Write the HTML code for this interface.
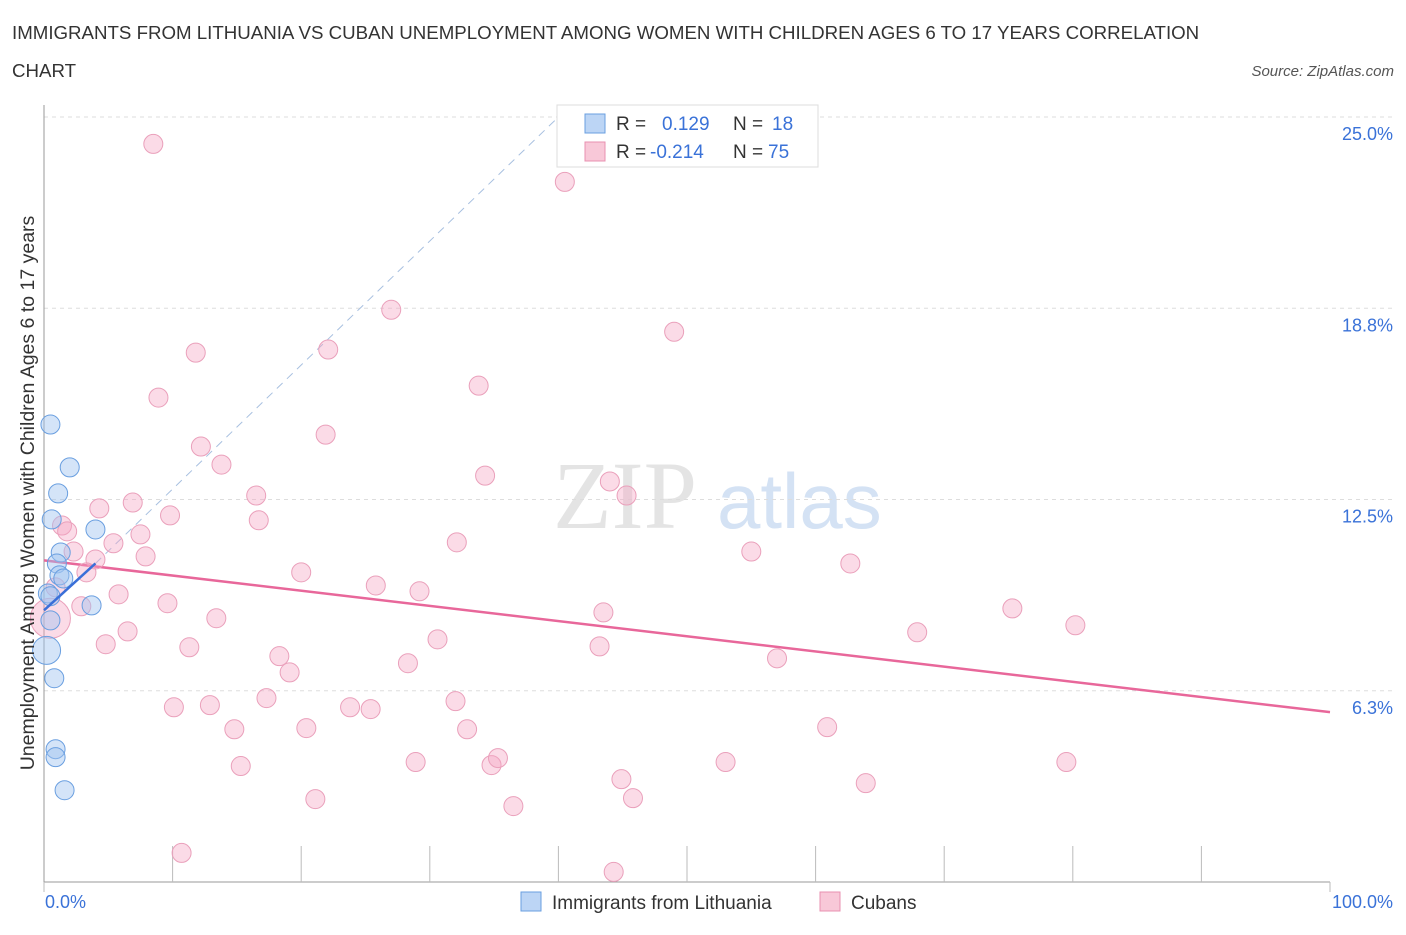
<!DOCTYPE html>
<html><head><meta charset="utf-8"><style>
body{margin:0;background:#fff;font-family:"Liberation Sans",sans-serif;}
svg text{font-family:"Liberation Sans",sans-serif;}
</style></head><body>
<svg id="chart" width="1406" height="930" xmlns="http://www.w3.org/2000/svg">
<text x="12" y="39" font-size="18.7" fill="#333">IMMIGRANTS FROM LITHUANIA VS CUBAN UNEMPLOYMENT AMONG WOMEN WITH CHILDREN AGES 6 TO 17 YEARS CORRELATION</text>
<text x="12" y="77" font-size="18.7" fill="#333">CHART</text>
<text x="1394" y="76" font-size="15" fill="#555" font-style="italic" text-anchor="end">Source: ZipAtlas.com</text>
<text x="553" y="528" font-size="96" fill="#e4e4e4" style="font-family:'Liberation Serif',serif">ZIP</text>
<text x="717" y="528" font-size="78" fill="#d4e2f4">atlas</text>
<g id="grid"></g>
<g id="axes"></g>
<g id="lines"></g>
<g id="pts"></g>
<text transform="translate(34,493) rotate(-90)" font-size="19.5" fill="#333" text-anchor="middle">Unemployment Among Women with Children Ages 6 to 17 years</text>
<g>
<rect x="557" y="105" width="261" height="62" fill="#fff" stroke="#ddd"/>
<rect x="585" y="114" width="20" height="19" fill="#bcd5f5" stroke="#6a9fe0"/>
<text x="616" y="130" font-size="19" fill="#333">R =</text><text x="662" y="130" font-size="19" fill="#3a72d8">0.129</text>
<text x="733" y="130" font-size="19" fill="#333">N =</text><text x="772" y="130" font-size="19" fill="#3a72d8">18</text>
<rect x="585" y="142" width="20" height="19" fill="#f8c8d8" stroke="#e890b0"/>
<text x="616" y="158" font-size="19" fill="#333">R =</text><text x="650" y="158" font-size="19" fill="#3a72d8">-0.214</text>
<text x="733" y="158" font-size="19" fill="#333">N =</text><text x="768" y="158" font-size="19" fill="#3a72d8">75</text>
</g>
<g>
<rect x="521" y="892" width="20" height="19" fill="#bcd5f5" stroke="#6a9fe0"/>
<text x="552" y="909" font-size="19" fill="#333">Immigrants from Lithuania</text>
<rect x="820" y="892" width="20" height="19" fill="#f8c8d8" stroke="#e890b0"/>
<text x="851" y="909" font-size="19" fill="#333">Cubans</text>
</g>
</svg>
<script>
const yTicks=[6.25,12.5,18.75,25];
const yTickLabels=["6.3%","12.5%","18.8%","25.0%"];
const xTickLabels=["0.0%","100.0%"];
const blueX=[0.5,2.0,1.1,0.6,4.0,1.3,1.0,1.2,1.5,0.3,0.5,3.7,0.5,0.2,0.8,0.9,0.9,1.6];
const blueY=[14.95,13.55,12.70,11.85,11.52,10.77,10.41,10.02,9.92,9.43,9.34,9.04,8.55,7.57,6.66,4.34,4.08,3.00];
const blueR=[9.5,9.5,9.5,9.5,9.5,9.5,9.5,9.5,9.5,9.5,9.5,9.5,9.5,14,9.5,9.5,9.5,9.5];
const pinkX=[8.5,40.5,27.0,49.0,11.8,22.1,33.8,8.9,21.9,12.2,13.8,34.3,44.0,45.3,16.5,4.3,6.9,9.8,16.7,1.4,1.8,7.5,5.4,32.1,55.0,2.3,7.9,4.0,62.7,3.3,20.0,25.8,29.2,0.9,5.8,9.6,2.9,43.5,75.3,13.4,0.5,6.5,80.2,67.9,30.6,4.8,11.3,43.2,18.3,57.0,28.3,19.1,17.3,32.0,10.1,12.9,23.8,25.4,14.8,20.4,32.9,60.9,15.3,28.9,34.8,35.3,53.0,79.5,44.9,63.9,21.1,45.8,36.5,10.7,44.3];
const pinkY=[24.12,22.88,18.70,17.98,17.30,17.40,16.22,15.83,14.62,14.23,13.64,13.28,13.09,12.63,12.63,12.21,12.40,11.98,11.82,11.65,11.46,11.36,11.07,11.10,10.80,10.80,10.64,10.54,10.41,10.12,10.12,9.69,9.50,9.63,9.40,9.11,9.01,8.81,8.94,8.62,8.62,8.19,8.39,8.16,7.93,7.77,7.67,7.70,7.38,7.31,7.15,6.85,6.01,5.91,5.71,5.78,5.71,5.65,4.99,5.03,4.99,5.06,3.79,3.92,3.82,4.05,3.92,3.92,3.36,3.23,2.71,2.74,2.48,0.95,0.33];
const blueTrend=[[0,8.88],[4,10.41]];
const blueDash=[[4,10.41],[40,25]];
const pinkTrend=[[0,10.51],[100,5.55]];
const NS="http://www.w3.org/2000/svg";
const X0=44,X1=1330,Y0=882,YTOP=117;
const sx=v=>X0+(X1-X0)*v/100;
const sy=v=>Y0-(Y0-YTOP)*v/25;
function mk(t,a,p){const e=document.createElementNS(NS,t);for(const k in a)e.setAttribute(k,a[k]);p.appendChild(e);return e;}
const grid=document.getElementById('grid'),axes=document.getElementById('axes'),lines=document.getElementById('lines'),pts=document.getElementById('pts');
yTicks.forEach((v,i)=>{
 const g=mk('line',{x1:X0,x2:1394,y1:sy(v),y2:sy(v),stroke:'#ddd','stroke-dasharray':'4,4'},grid);
 
 
 const t=mk('text',{x:1393,y:sy(v)+23,'font-size':18,fill:'#3a72d8','text-anchor':'end'},axes);
 t.textContent=yTickLabels[i];
 
 
});
const ya=mk('line',{x1:X0,x2:X0,y1:105,y2:Y0,stroke:'#999'},axes);


const xa=mk('line',{x1:X0,x2:X1,y1:Y0,y2:Y0,stroke:'#999'},axes);


for(let i=0;i<=10;i++){
 const tk=mk('line',{x1:sx(i*10),x2:sx(i*10),y1:(i==0||i==10)?Y0:Y0-36,y2:Y0+(i==0||i==10?10:0),stroke:'#bbb'},axes);
 
 
}
[[0,'start',45],[100,'end',1393]].forEach((d,i)=>{
 const t=mk('text',{x:d[2],y:908,'font-size':18,fill:'#3a72d8','text-anchor':d[1]},axes);
 t.textContent=xTickLabels[i];
 
 
});
const pr=(arr)=>({x1:sx(arr[0][0]),y1:sy(arr[0][1]),x2:sx(arr[1][0]),y2:sy(arr[1][1])});
pinkX.forEach((x,i)=>{
 const c=mk('circle',{cx:sx(x),cy:sy(pinkY[i]),r:i==40?20:9.5,fill:'rgba(244,165,195,0.4)',stroke:'#eaa0bb','stroke-width':1},pts);
 
 
});
blueX.forEach((x,i)=>{
 const c=mk('circle',{cx:sx(x),cy:sy(blueY[i]),r:blueR[i],fill:'rgba(160,195,240,0.45)',stroke:'#6a9fe0','stroke-width':1},pts);
 
 
});
const l1=mk('line',Object.assign(pr(pinkTrend),{stroke:'#e8679a','stroke-width':2.5}),lines);


const l2=mk('line',Object.assign(pr(blueDash),{stroke:'#a8c0e0','stroke-width':1,'stroke-dasharray':'8,6'}),lines);


const l3=mk('line',Object.assign(pr(blueTrend),{stroke:'#3a6fd8','stroke-width':2.5}),pts);


</script>
</body></html>
